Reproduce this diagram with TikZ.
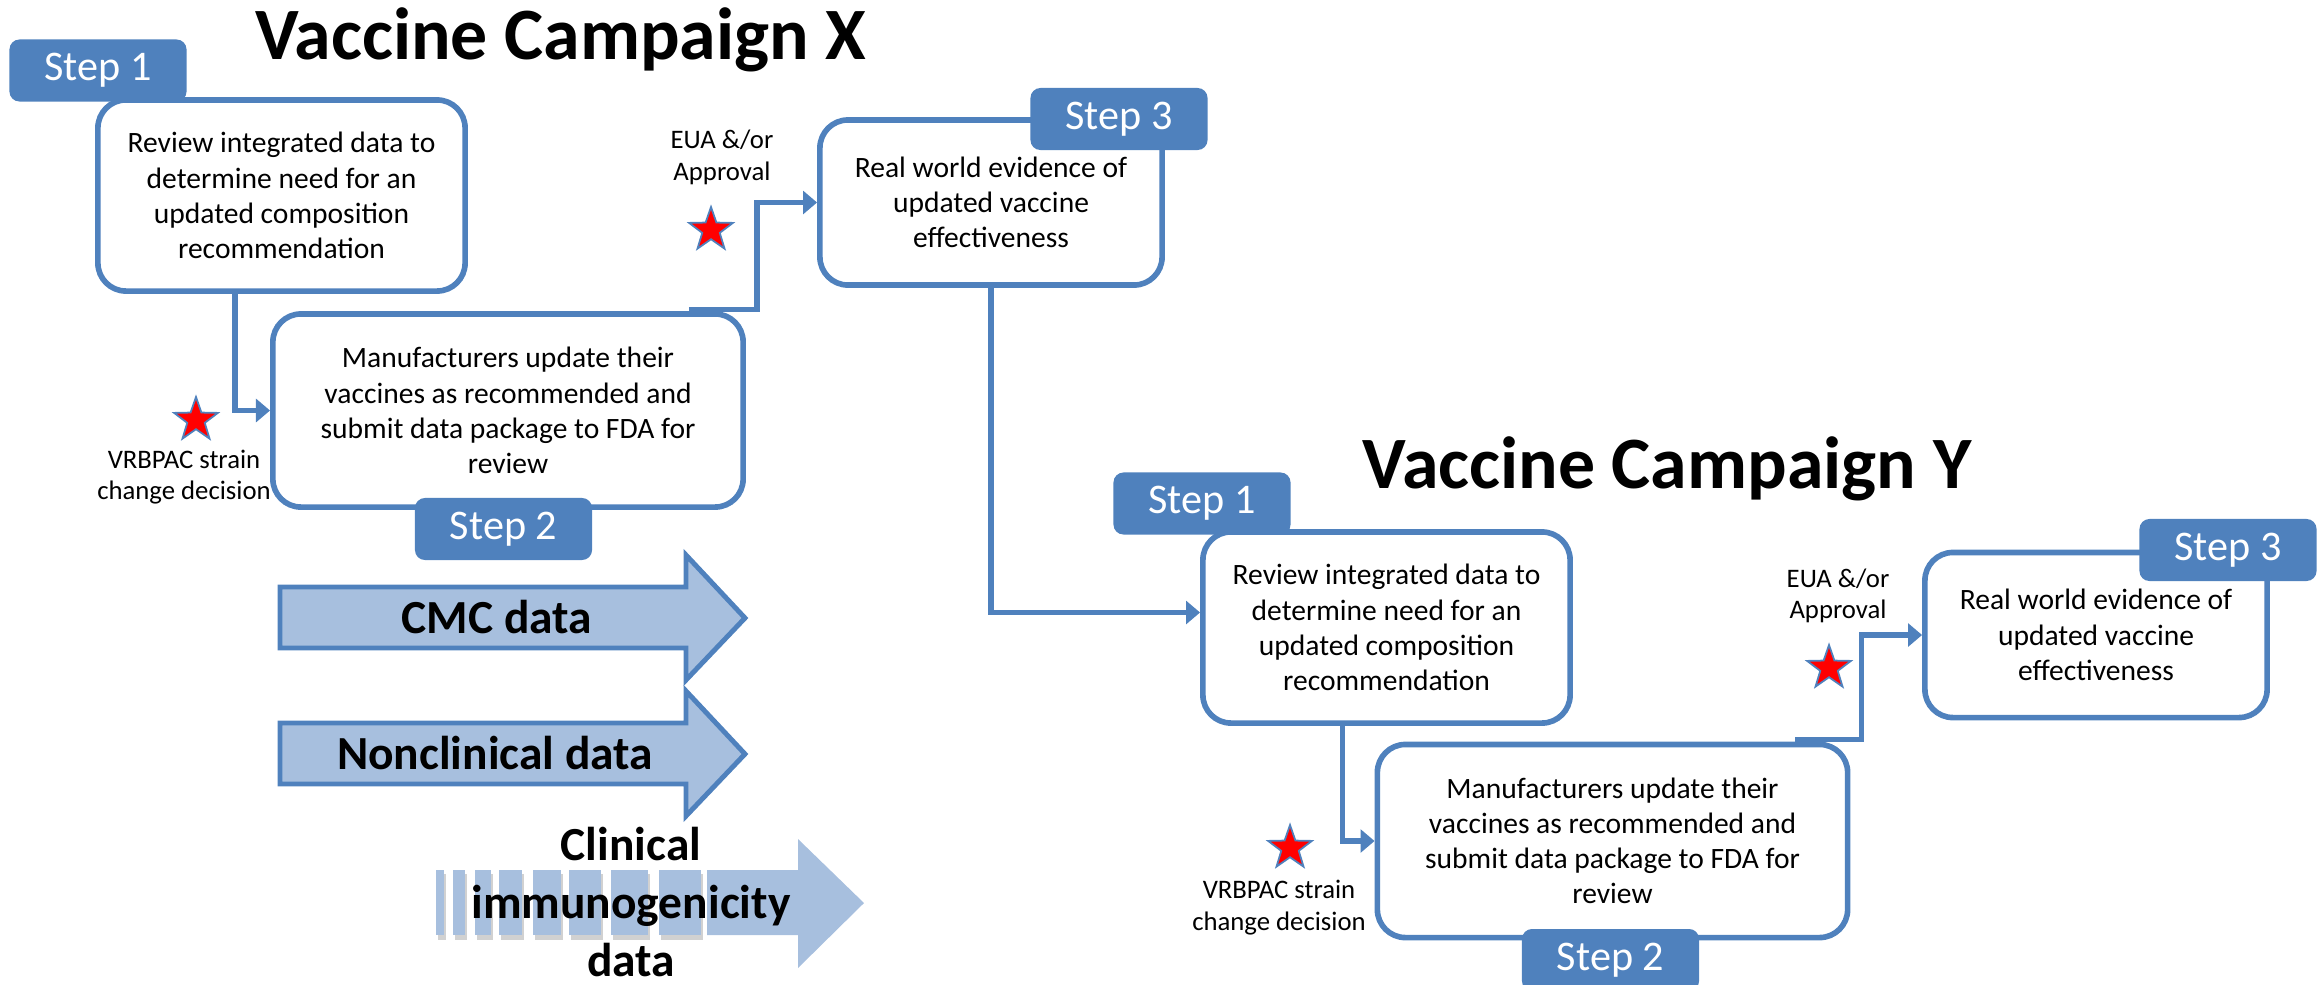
\documentclass[tikz,border=0pt]{standalone}
\usepackage{fontspec}
\setmainfont{Carlito}
\usetikzlibrary{shapes.geometric,arrows.meta,calc}
\definecolor{accent}{HTML}{4F81BD}
\definecolor{lightaccent}{HTML}{A7BFDE}

\begin{document}
\begin{tikzpicture}[x=0.01cm, y=-0.01cm]

% Set the overall size of the picture
\useasboundingbox (0,0) rectangle (2318,984);

% Define styles for boxes, step labels and stars
\tikzstyle{box}=[draw=accent, line width=1.6pt, rounded corners=0.28cm, fill=white, align=center, inner sep=0pt, font=\fontsize{8.4}{10}\selectfont]
\tikzstyle{steptab}=[fill=accent, rounded corners=0.1cm, text=white, minimum width=1.77cm, minimum height=0.62cm, font=\fontsize{12}{14}\selectfont]
\tikzstyle{heading}=[anchor=base, font=\fontsize{21}{25}\bfseries\selectfont]
\tikzstyle{note}=[align=center, font=\fontsize{7.6}{9}\selectfont]
\tikzstyle{redstar}=[star, star points=5, star point ratio=2.5, fill=red, draw=accent, line width=0.5pt, minimum size=0.46cm, inner sep=0pt]
\tikzstyle{link}=[draw=accent, line width=1.5pt, -{Triangle[length=4pt, width=6.5pt]}]

% Styles for the data arrows
\tikzstyle{dataarrow}=[fill=lightaccent, draw=accent, line width=1.4pt]
\tikzstyle{datatext}=[align=center, font=\fontsize{13.5}{16.6}\bfseries\selectfont]

%Vaccine Campaign X
\node[heading] (titleX) at (561,59) {Vaccine Campaign X};

\node[box, minimum width=3.67cm, minimum height=1.91cm] (reviewX) at (281.5,195.5)
	{Review integrated data to\\determine need for an\\updated composition\\recommendation};
\node[box, minimum width=4.70cm, minimum height=1.93cm] (makeX) at (508,410.5)
	{Manufacturers update their\\vaccines as recommended and\\submit data package to FDA for\\review};
\node[box, minimum width=3.42cm, minimum height=1.65cm] (rweX) at (991,202.5)
	{Real world evidence of\\updated vaccine\\effectiveness};

\node[steptab] (step1X) at (98,70.5) {Step 1};
\node[steptab] (step2X) at (503.5,529) {Step 2};
\node[steptab] (step3X) at (1119,119) {Step 3};

\node[redstar] (vrbpacX) at (196,420) {};
\node[note] (vrbpacXtext) at (184,477) {VRBPAC strain\\change decision};
\node[redstar] (euaX) at (711,230) {};
\node[note] (euaXtext) at (722,157.5) {EUA \&/or\\Approval};

\draw[link] ($(reviewX.south)+(-46.5,0)$) |- (makeX.west);
\draw[link] ($(makeX.north east)+(-57,-2)$) -- ++(68,0) |- (rweX.west);

%Data arrows
\draw[dataarrow] (280,587) -- (686,587) -- (686,555) -- (745,618) -- (686,680) -- (686,648) -- (280,648) -- cycle;
\node[datatext] (cmc) at (497,617) {CMC data};
\draw[dataarrow] (280,723) -- (686,723) -- (686,691) -- (745,754) -- (686,816) -- (686,784) -- (280,784) -- cycle;
\node[datatext] (nonclinical) at (495,753) {Nonclinical data};

\foreach \a/\b in {436/444, 453/465, 475/491, 499/522, 533/561, 569/601, 611/648, 659/701}{
	\fill[black!18] (\a+2,874) rectangle (\b+2,940);
	\fill[lightaccent] (\a,870) rectangle (\b,935);
}
\fill[lightaccent] (707,870) -- (798,870) -- (798,839) -- (864,903) -- (798,968) -- (798,935) -- (707,935) -- cycle;
\node[datatext] (clinical) at (631,902) {Clinical\\immunogenicity\\data};

%Vaccine Campaign Y
\node[heading] (titleY) at (1667,488) {Vaccine Campaign Y};

\node[box, minimum width=3.67cm, minimum height=1.91cm] (reviewY) at (1386.5,627.5)
	{Review integrated data to\\determine need for an\\updated composition\\recommendation};
\node[box, minimum width=4.70cm, minimum height=1.93cm] (makeY) at (1612.5,841)
	{Manufacturers update their\\vaccines as recommended and\\submit data package to FDA for\\review};
\node[box, minimum width=3.42cm, minimum height=1.65cm] (rweY) at (2096,635)
	{Real world evidence of\\updated vaccine\\effectiveness};

\node[steptab] (step1Y) at (1202,503.5) {Step 1};
\node[steptab] (step2Y) at (1610.5,960) {Step 2};
\node[steptab] (step3Y) at (2228,550) {Step 3};

\node[redstar] (vrbpacY) at (1290,848) {};
\node[note] (vrbpacYtext) at (1279,907.5) {VRBPAC strain\\change decision};
\node[redstar] (euaY) at (1829,668) {};
\node[note] (euaYtext) at (1838,596) {EUA \&/or\\Approval};

\draw[link] ($(reviewY.south)+(-44,0)$) |- (makeY.west);
\draw[link] ($(makeY.north east)+(-55,-2)$) -- ++(66,0) |- (rweY.west);

%From campaign X to campaign Y
\draw[link] (rweX.south) |- ($(reviewY.west)+(0,-15)$);

\end{tikzpicture}
\end{document}
